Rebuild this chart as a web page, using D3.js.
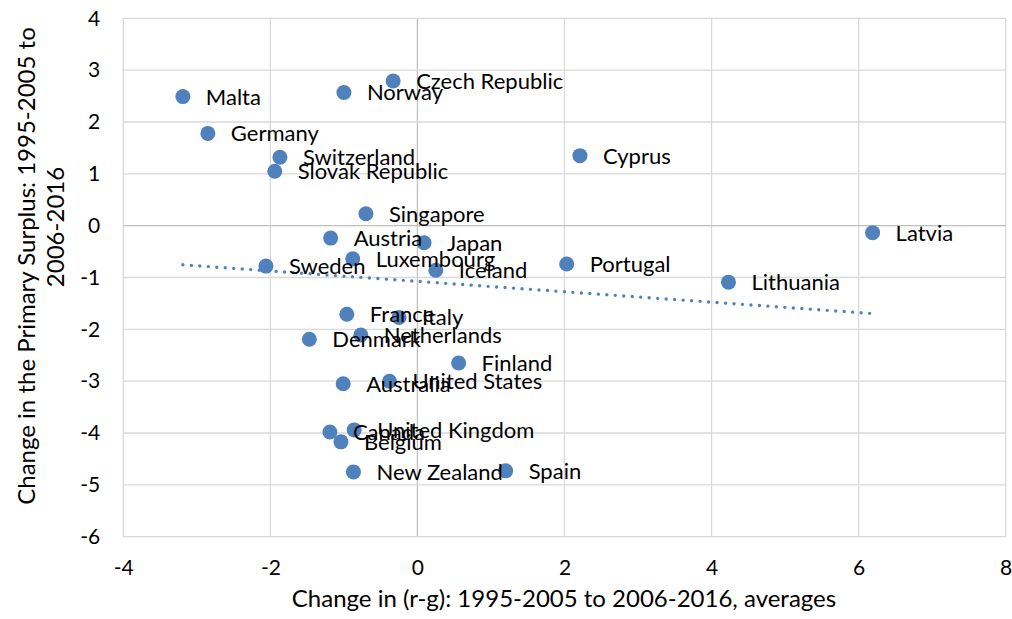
<!DOCTYPE html>
<html>
<head>
<meta charset="utf-8">
<script src="https://cdn.jsdelivr.net/npm/d3@7"></script>
<style>
  body { margin: 0; background: #fff; }
  svg text { font-family: Lato, "Open Sans", sans-serif; fill: #000; }
</style>
</head>
<body>
<div id="chart-area"></div>
<script>
// countries, with change in (r-g) and change in primary surplus
var countries = ["Malta", "Germany", "Czech Republic", "Norway", "Switzerland", "Slovak Republic",
	"Cyprus", "Singapore", "Latvia", "Austria", "Japan", "Luxembourg", "Sweden", "Iceland",
	"Portugal", "Lithuania", "France", "Italy", "Netherlands", "Denmark", "Finland",
	"Australia", "United States", "Canada", "United Kingdom", "Belgium", "New Zealand", "Spain"];
var rgChange = [-3.19, -2.85, -0.33, -1.00, -1.87, -1.94,
	2.21, -0.70, 6.19, -1.18, 0.09, -0.88, -2.06, 0.25,
	2.03, 4.23, -0.96, -0.25, -0.77, -1.47, 0.56,
	-1.01, -0.38, -1.19, -0.86, -1.04, -0.87, 1.20];
var surplusChange = [2.49, 1.78, 2.79, 2.57, 1.32, 1.05,
	1.35, 0.23, -0.135, -0.24, -0.33, -0.64, -0.78, -0.86,
	-0.74, -1.09, -1.71, -1.77, -2.11, -2.19, -2.65,
	-3.05, -3.00, -3.98, -3.94, -4.17, -4.75, -4.73];

var xTicks = [-4, -2, 0, 2, 4, 6, 8];
var yTicks = [-6, -5, -4, -3, -2, -1, 0, 1, 2, 3, 4];

var width = 1012,
	height = 619;

var data = countries.map(function(c, i) {
	return {name: c, x: rgChange[i], y: surplusChange[i]};
});

var svg = d3.select("#chart-area").append("svg")
	.attr("width", width)
	.attr("height", height);

var x = d3.scaleLinear().domain([-4, 8]).range([123.3, 1005.7]);
var y = d3.scaleLinear().domain([-6, 4]).range([536.7, 18.3]);

// gridlines
svg.append("g").selectAll("line.vg")
	.data(xTicks).enter().append("line")
	.attr("x1", d => x(d)).attr("x2", d => x(d))
	.attr("y1", y(-6)).attr("y2", y(4))
	.attr("stroke", d => d === 0 ? "#bfbfbf" : "#d9d9d9")
	.attr("stroke-width", 1.3);

svg.append("g").selectAll("line.hg")
	.data(yTicks).enter().append("line")
	.attr("x1", x(-4)).attr("x2", x(8))
	.attr("y1", d => y(d)).attr("y2", d => y(d))
	.attr("stroke", d => d === 0 ? "#bfbfbf" : "#d9d9d9")
	.attr("stroke-width", 1.3);

// axes (labels only), plain hyphen minus like the original
var xAxis = d3.axisBottom(x).tickValues(xTicks).tickSize(0).tickPadding(23)
	.tickFormat(d => String(d));
var yAxis = d3.axisLeft(y).tickValues(yTicks).tickSize(0).tickPadding(23)
	.tickFormat(d => String(d));

var xAxisGroup = svg.append("g")
	.attr("transform", "translate(0," + y(-6) + ")")
	.call(xAxis);
var yAxisGroup = svg.append("g")
	.attr("transform", "translate(" + x(-4) + ",0)")
	.call(yAxis);

[xAxisGroup, yAxisGroup].forEach(function(g) {
	g.select(".domain").remove();
	g.selectAll("text")
		.style("font-family", "Lato, sans-serif")
		.style("font-size", "21px")
		.attr("fill", "#000");
});

// trendline (least squares)
var mx = d3.mean(data, d => d.x),
	my = d3.mean(data, d => d.y);
var slope = d3.sum(data, d => (d.x - mx) * (d.y - my)) / d3.sum(data, d => (d.x - mx) * (d.x - mx));
var intercept = my - slope * mx;
var xExt = d3.extent(data, d => d.x);

svg.append("line")
	.attr("x1", x(xExt[0])).attr("y1", y(intercept + slope * xExt[0]))
	.attr("x2", x(xExt[1])).attr("y2", y(intercept + slope * xExt[1]))
	.attr("stroke", "#4f81bd")
	.attr("stroke-width", 3.4)
	.attr("stroke-linecap", "round")
	.attr("stroke-dasharray", "0 8.5");

// points
svg.append("g").selectAll("circle")
	.data(data).enter().append("circle")
	.attr("cx", d => x(d.x))
	.attr("cy", d => y(d.y))
	.attr("r", 7.5)
	.attr("fill", "#4f81bd");

// labels
svg.append("g").selectAll("text")
	.data(data).enter().append("text")
	.attr("x", d => x(d.x) + 23)
	.attr("y", d => y(d.y) + 8)
	.style("font-size", "22px")
	.text(d => d.name);

// axis titles
svg.append("text")
	.attr("x", 564)
	.attr("y", 607)
	.attr("text-anchor", "middle")
	.style("font-size", "24px")
	.text("Change in (r-g): 1995-2005 to 2006-2016, averages");

svg.append("text")
	.attr("transform", "translate(35,266) rotate(-90)")
	.attr("text-anchor", "middle")
	.style("font-size", "24px")
	.text("Change in the Primary Surplus: 1995-2005 to");

svg.append("text")
	.attr("transform", "translate(64,227) rotate(-90)")
	.attr("text-anchor", "middle")
	.style("font-size", "24px")
	.text("2006-2016");
</script>
</body>
</html>
